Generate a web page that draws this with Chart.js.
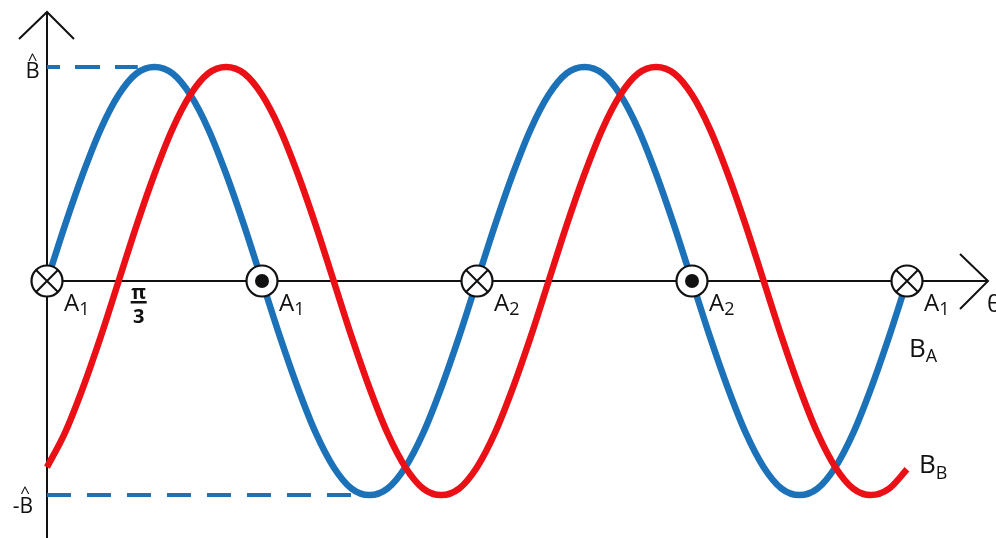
<!DOCTYPE html>
<html>
<head>
<meta charset="utf-8">
<script src="https://cdn.jsdelivr.net/npm/chart.js@4"></script>
<style>
  html, body { margin: 0; padding: 0; background: #ffffff; overflow: hidden; }
  canvas { display: block; }
</style>
</head>
<body>
<canvas id="chart" width="996" height="538"></canvas>
<script>
// Electrical angle θ in degrees (0 … 4π)
const angles = [
  0, 15, 30, 45, 60, 75, 90, 105, 120, 135, 150, 165,
  180, 195, 210, 225, 240, 255, 270, 285, 300, 315, 330, 345,
  360, 375, 390, 405, 420, 435, 450, 465, 480, 495, 510, 525,
  540, 555, 570, 585, 600, 615, 630, 645, 660, 675, 690, 705,
  720
];

// Flux density of phase A, per unit of B̂
const fluxA = [
  0, 0.26, 0.5, 0.71, 0.87, 0.97, 1, 0.97, 0.87, 0.71, 0.5, 0.26,
  0, -0.26, -0.5, -0.71, -0.87, -0.97, -1, -0.97, -0.87, -0.71, -0.5, -0.26,
  0, 0.26, 0.5, 0.71, 0.87, 0.97, 1, 0.97, 0.87, 0.71, 0.5, 0.26,
  0, -0.26, -0.5, -0.71, -0.87, -0.97, -1, -0.97, -0.87, -0.71, -0.5, -0.26,
  0
];

// Flux density of phase B, lagging by π/3
const fluxB = [
  -0.87, -0.71, -0.5, -0.26, 0, 0.26, 0.5, 0.71, 0.87, 0.97, 1, 0.97,
  0.87, 0.71, 0.5, 0.26, 0, -0.26, -0.5, -0.71, -0.87, -0.97, -1, -0.97,
  -0.87, -0.71, -0.5, -0.26, 0, 0.26, 0.5, 0.71, 0.87, 0.97, 1, 0.97,
  0.87, 0.71, 0.5, 0.26, 0, -0.26, -0.5, -0.71, -0.87, -0.97, -1, -0.97,
  -0.88
];

// Dashed guides to the peak values
const peakGuideAngles = [0, 76];
const peakGuideValues = [1, 1];
const troughGuideAngles = [0, 256];
const troughGuideValues = [-1, -1];

// Conductors on the θ axis: ⊗ current into the page, ⊙ out of it
const conductorAngles = [0, 180, 360, 540, 720];
const conductorDirs = ['in', 'out', 'in', 'out', 'in'];
const conductorNames = ['A', 'A', 'A', 'A', 'A'];
const conductorSubs = ['1', '1', '2', '2', '1'];

const BLUE = '#1c72b8';
const RED = '#ea1016';
const INK = '#111111';
const FONT = '"Open Sans", "DejaVu Sans", sans-serif';

const toPoints = (xs, ys) => xs.map((x, i) => ({ x: x, y: ys[i] }));

function drawSubscripted(ctx, x, baseline, main, sub, size, subSize, subDrop) {
  ctx.textAlign = 'left';
  ctx.textBaseline = 'alphabetic';
  ctx.font = size + 'px ' + FONT;
  ctx.fillText(main, x, baseline);
  const w = ctx.measureText(main).width;
  ctx.font = subSize + 'px ' + FONT;
  ctx.fillText(sub, x + w, baseline + subDrop);
}

const axesPlugin = {
  id: 'axesAndLabels',
  beforeDatasetsDraw(chart) {
    const ctx = chart.ctx;
    const xs = chart.scales.x, ys = chart.scales.y;
    const x0 = xs.getPixelForValue(0);
    const y0 = ys.getPixelForValue(0);
    ctx.save();
    ctx.strokeStyle = INK;
    ctx.lineWidth = 2;
    ctx.lineCap = 'butt';
    // vertical axis with open arrow head
    ctx.beginPath();
    ctx.moveTo(x0, 12);
    ctx.lineTo(x0, chart.height);
    ctx.stroke();
    ctx.beginPath();
    ctx.moveTo(x0 - 28, 39);
    ctx.lineTo(x0, 12);
    ctx.lineTo(x0 + 27, 39);
    ctx.stroke();
    // θ axis with open arrow head
    ctx.beginPath();
    ctx.moveTo(x0, y0);
    ctx.lineTo(988, y0);
    ctx.stroke();
    ctx.beginPath();
    ctx.moveTo(960, y0 - 27);
    ctx.lineTo(988, y0);
    ctx.lineTo(960, y0 + 28);
    ctx.stroke();
    ctx.restore();
  },
  afterDatasetsDraw(chart) {
    const ctx = chart.ctx;
    const xs = chart.scales.x, ys = chart.scales.y;
    const y0 = ys.getPixelForValue(0);
    ctx.save();
    ctx.fillStyle = INK;
    ctx.strokeStyle = INK;

    // conductor symbols and names
    conductorAngles.forEach((a, i) => {
      const cx = xs.getPixelForValue(a);
      const r = 15.5;
      ctx.beginPath();
      ctx.arc(cx, y0, r, 0, Math.PI * 2);
      ctx.fillStyle = '#ffffff';
      ctx.fill();
      ctx.lineWidth = 2.2;
      ctx.strokeStyle = INK;
      ctx.stroke();
      ctx.fillStyle = INK;
      if (conductorDirs[i] === 'in') {
        const d = r * Math.SQRT1_2;
        ctx.beginPath();
        ctx.moveTo(cx - d, y0 - d); ctx.lineTo(cx + d, y0 + d);
        ctx.moveTo(cx + d, y0 - d); ctx.lineTo(cx - d, y0 + d);
        ctx.lineWidth = 2;
        ctx.stroke();
      } else {
        ctx.beginPath();
        ctx.arc(cx, y0, 7, 0, Math.PI * 2);
        ctx.fill();
      }
      drawSubscripted(ctx, cx + 17, 311, conductorNames[i], conductorSubs[i], 24, 18, 4);
    });

    // π/3 mark on the θ axis
    const px = xs.getPixelForValue(60) + 20;
    ctx.font = 'bold 20px ' + FONT;
    ctx.textAlign = 'center';
    ctx.textBaseline = 'alphabetic';
    ctx.fillText('π', px, 299);
    ctx.fillText('3', px, 323);
    ctx.fillRect(px - 8, 301, 16, 2.5);

    // B̂ and -B̂ on the vertical axis
    const yTop = ys.getPixelForValue(1);
    const yBot = ys.getPixelForValue(-1);
    ctx.textAlign = 'center';
    ctx.font = '22px ' + FONT;
    ctx.fillText('B', 32.5, yTop + 11);
    ctx.font = '17px ' + FONT;
    ctx.fillText('^', 32.5, yTop - 2);
    ctx.textAlign = 'right';
    ctx.font = '21px ' + FONT;
    ctx.fillText('-B', 33, yBot + 18);
    ctx.textAlign = 'center';
    ctx.font = '17px ' + FONT;
    ctx.fillText('^', 25, yBot + 3);

    // curve names and axis name
    drawSubscripted(ctx, 909, 357, 'B', 'A', 26, 18, 5);
    drawSubscripted(ctx, 919, 473, 'B', 'B', 26, 18, 6);
    ctx.textAlign = 'left';
    ctx.font = '24px ' + FONT;
    ctx.fillText('θ', 987, 312);
    ctx.restore();
  }
};

new Chart(document.getElementById('chart'), {
  type: 'line',
  data: {
    datasets: [
      {
        label: 'B_B',
        data: toPoints(angles, fluxB),
        borderColor: RED,
        borderWidth: 6.5,
        cubicInterpolationMode: 'monotone',
        pointRadius: 0,
        clip: false,
        order: 0
      },
      {
        label: 'B_A',
        data: toPoints(angles, fluxA),
        borderColor: BLUE,
        borderWidth: 6.5,
        cubicInterpolationMode: 'monotone',
        pointRadius: 0,
        clip: false,
        order: 1
      },
      {
        label: 'peak',
        data: toPoints(peakGuideAngles, peakGuideValues),
        borderColor: BLUE,
        borderWidth: 4,
        borderDash: [25, 15],
        borderDashOffset: 12,
        pointRadius: 0,
        clip: false,
        order: 2
      },
      {
        label: 'trough',
        data: toPoints(troughGuideAngles, troughGuideValues),
        borderColor: BLUE,
        borderWidth: 4,
        borderDash: [24, 16],
        pointRadius: 0,
        clip: false,
        order: 2
      }
    ]
  },
  options: {
    responsive: false,
    devicePixelRatio: 1,
    animation: false,
    events: [],
    layout: { padding: { left: 47, right: 89, top: 67, bottom: 43 } },
    plugins: { legend: { display: false }, tooltip: { enabled: false } },
    scales: {
      x: { type: 'linear', min: 0, max: 720, display: false },
      y: { type: 'linear', min: -1, max: 1, display: false }
    }
  },
  plugins: [axesPlugin]
});
</script>
</body>
</html>
